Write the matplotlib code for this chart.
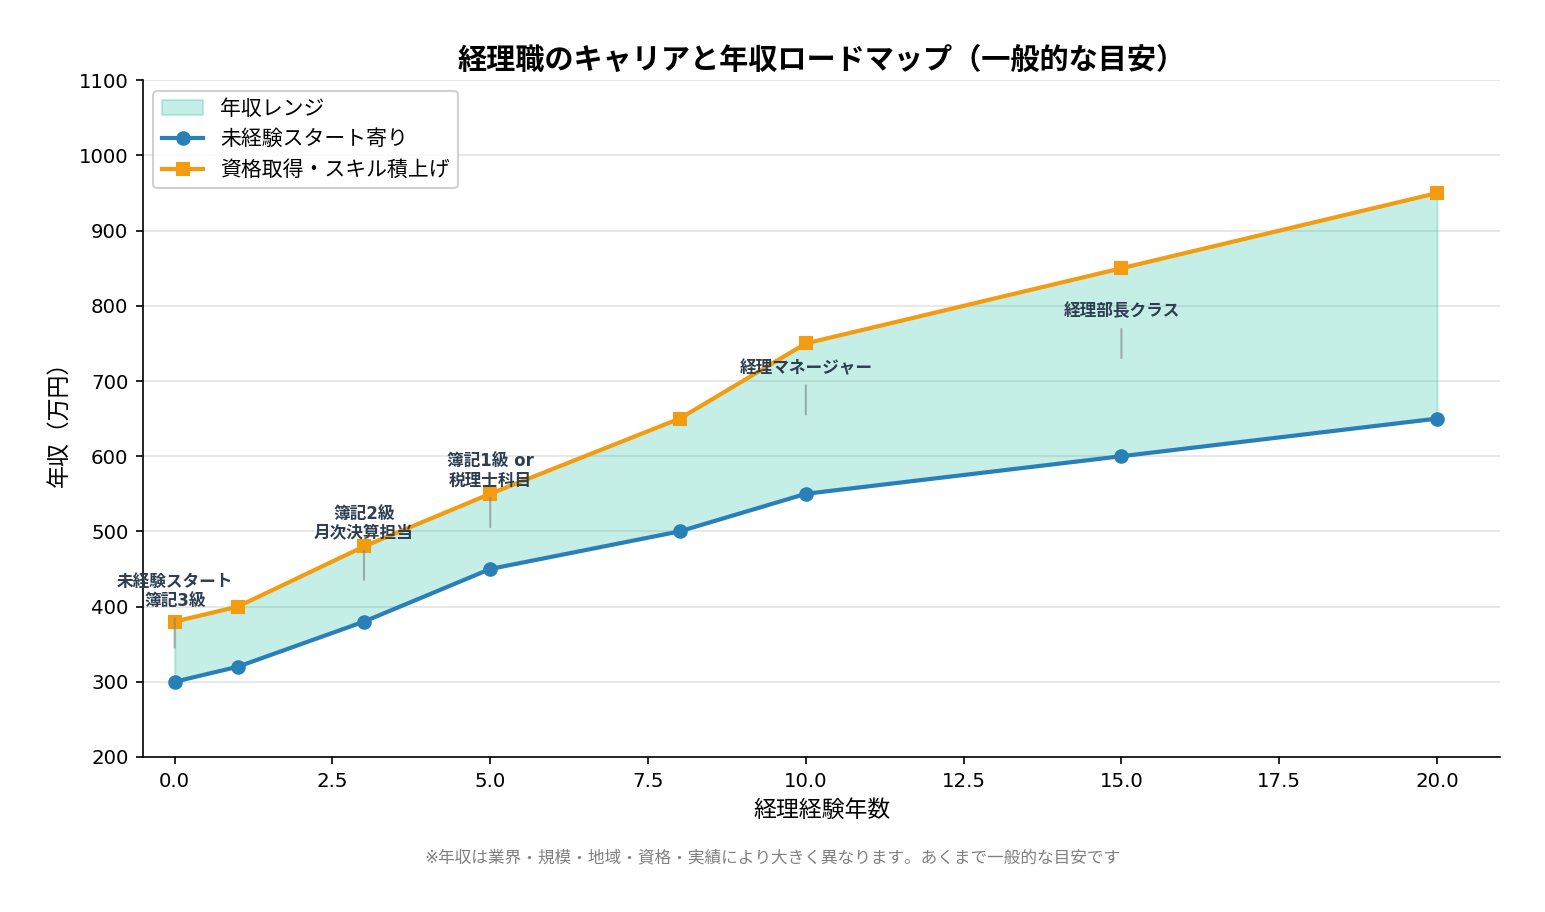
import numpy as np
import matplotlib
matplotlib.use('Agg')
import matplotlib.pyplot as plt

plt.rcParams['font.family'] = ['DejaVu Sans', 'Noto Sans CJK JP']

years = [0, 1, 3, 5, 8, 10, 15, 20]
salary_low = [300, 320, 380, 450, 500, 550, 600, 650]
salary_high = [380, 400, 480, 550, 650, 750, 850, 950]

milestone_years = [0, 3, 5, 10, 15]
milestone_labels = ['未経験スタート\n簿記3級', '簿記2級\n月次決算担当', '簿記1級 or\n税理士科目',
                    '経理マネージャー', '経理部長クラス']

fig = plt.figure(figsize=(10.3, 6.08), dpi=150)
ax = fig.add_axes([0.0926, 0.170, 0.8784, 0.742])

ax.fill_between(years, salary_low, salary_high, color='#1abc9c', alpha=0.25, label='年収レンジ')
ax.plot(years, salary_low, color='#2980b9', lw=2, marker='o', ms=6, label='未経験スタート寄り')
ax.plot(years, salary_high, color='#f39c12', lw=2, marker='s', ms=6, label='資格取得・スキル積上げ')

# labels sit above the middle of the range, with a short tick down to it
for yr, text in zip(milestone_years, milestone_labels):
    i = years.index(yr)
    mid = (salary_low[i] + salary_high[i]) / 2
    ax.annotate(text, xy=(yr, mid), xytext=(0, 20), textcoords='offset points',
                ha='center', va='bottom', fontsize=8, fontweight='bold', color='#2c3e50',
                linespacing=1.1,
                arrowprops=dict(arrowstyle='-', color='gray', alpha=0.6, lw=1))

ax.set_xlim(-0.5, 21)
ax.set_ylim(200, 1100)
ax.set_xticks(np.arange(0, 20.1, 2.5))
ax.set_yticks(np.arange(200, 1101, 100))
ax.tick_params(labelsize=9.5)
ax.grid(axis='y', color='#dddddd', alpha=0.8, lw=0.8)
ax.set_axisbelow(True)
ax.spines['top'].set_visible(False)
ax.spines['right'].set_visible(False)

ax.set_xlabel('経理経験年数', fontsize=11)
ax.set_ylabel('年収（万円）', fontsize=11)
ax.set_title('経理職のキャリアと年収ロードマップ（一般的な目安）', fontsize=14, fontweight='bold', pad=5.5)
ax.legend(loc='upper left', fontsize=10, framealpha=0.9)

fig.text(0.5, 0.06, '※年収は業界・規模・地域・資格・実績により大きく異なります。あくまで一般的な目安です',
         ha='center', va='center', fontsize=8, color='gray')

fig.savefig('out.png', dpi=150)
